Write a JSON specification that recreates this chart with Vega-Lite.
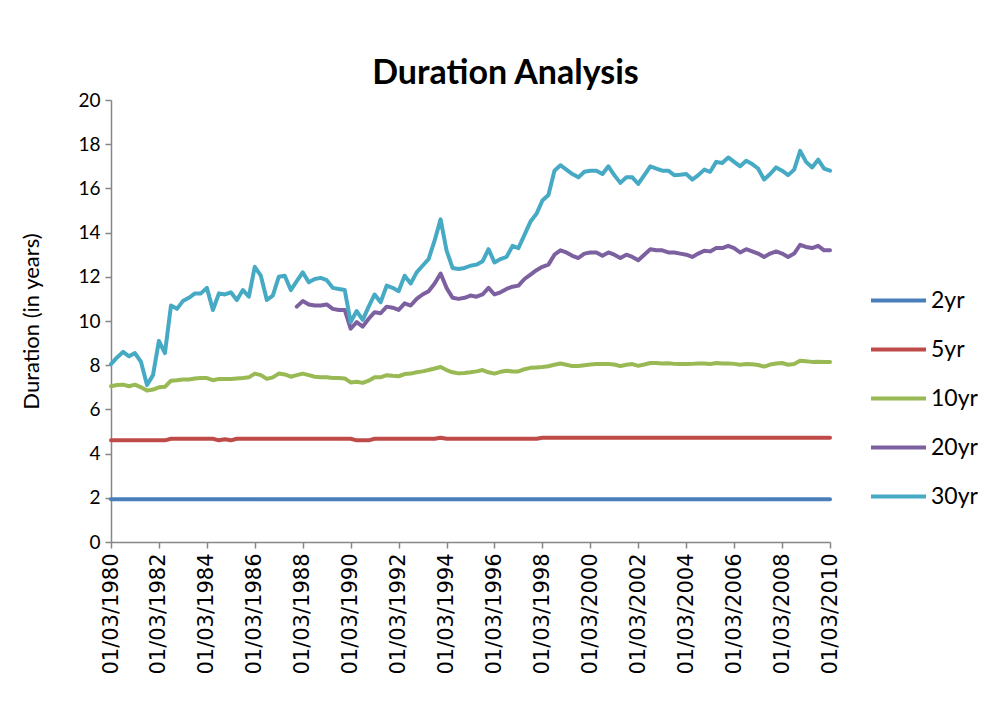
{
"$schema":"https://vega.github.io/schema/vega-lite/v6.json",
"width":719,"height":442,
"autosize":{"type":"none"},
"padding":{"left":111,"top":100,"right":160,"bottom":163},
"background":"white",
"title":{"text":"Duration Analysis","font":"Lato","fontSize":34,"fontWeight":"bold","color":"#000000","anchor":"middle","dx":35,"offset":0},
"data":{"values":[
{"d":"1980-03-01","2yr":1.93,"5yr":4.6,"10yr":7.05,"20yr":null,"30yr":8.05},
{"d":"1980-06-01","2yr":1.93,"5yr":4.6,"10yr":7.1,"20yr":null,"30yr":8.35},
{"d":"1980-09-01","2yr":1.93,"5yr":4.6,"10yr":7.12,"20yr":null,"30yr":8.6},
{"d":"1980-12-01","2yr":1.93,"5yr":4.6,"10yr":7.05,"20yr":null,"30yr":8.4},
{"d":"1981-03-01","2yr":1.93,"5yr":4.6,"10yr":7.12,"20yr":null,"30yr":8.55},
{"d":"1981-06-01","2yr":1.93,"5yr":4.6,"10yr":7.0,"20yr":null,"30yr":8.15},
{"d":"1981-09-01","2yr":1.93,"5yr":4.6,"10yr":6.85,"20yr":null,"30yr":7.1},
{"d":"1981-12-01","2yr":1.93,"5yr":4.6,"10yr":6.9,"20yr":null,"30yr":7.55},
{"d":"1982-03-01","2yr":1.93,"5yr":4.6,"10yr":7.0,"20yr":null,"30yr":9.1},
{"d":"1982-06-01","2yr":1.93,"5yr":4.6,"10yr":7.02,"20yr":null,"30yr":8.55},
{"d":"1982-09-01","2yr":1.93,"5yr":4.67,"10yr":7.3,"20yr":null,"30yr":10.7},
{"d":"1982-12-01","2yr":1.93,"5yr":4.67,"10yr":7.32,"20yr":null,"30yr":10.55},
{"d":"1983-03-01","2yr":1.93,"5yr":4.67,"10yr":7.35,"20yr":null,"30yr":10.9},
{"d":"1983-06-01","2yr":1.93,"5yr":4.67,"10yr":7.35,"20yr":null,"30yr":11.05},
{"d":"1983-09-01","2yr":1.93,"5yr":4.67,"10yr":7.4,"20yr":null,"30yr":11.25},
{"d":"1983-12-01","2yr":1.93,"5yr":4.67,"10yr":7.42,"20yr":null,"30yr":11.25},
{"d":"1984-03-01","2yr":1.93,"5yr":4.67,"10yr":7.42,"20yr":null,"30yr":11.5},
{"d":"1984-06-01","2yr":1.93,"5yr":4.67,"10yr":7.32,"20yr":null,"30yr":10.5},
{"d":"1984-09-01","2yr":1.93,"5yr":4.6,"10yr":7.38,"20yr":null,"30yr":11.25},
{"d":"1984-12-01","2yr":1.93,"5yr":4.65,"10yr":7.38,"20yr":null,"30yr":11.2},
{"d":"1985-03-01","2yr":1.93,"5yr":4.6,"10yr":7.38,"20yr":null,"30yr":11.3},
{"d":"1985-06-01","2yr":1.93,"5yr":4.67,"10yr":7.4,"20yr":null,"30yr":10.95},
{"d":"1985-09-01","2yr":1.93,"5yr":4.67,"10yr":7.42,"20yr":null,"30yr":11.4},
{"d":"1985-12-01","2yr":1.93,"5yr":4.67,"10yr":7.45,"20yr":null,"30yr":11.1},
{"d":"1986-03-01","2yr":1.93,"5yr":4.67,"10yr":7.62,"20yr":null,"30yr":12.45},
{"d":"1986-06-01","2yr":1.93,"5yr":4.67,"10yr":7.55,"20yr":null,"30yr":12.05},
{"d":"1986-09-01","2yr":1.93,"5yr":4.67,"10yr":7.38,"20yr":null,"30yr":10.95},
{"d":"1986-12-01","2yr":1.93,"5yr":4.67,"10yr":7.45,"20yr":null,"30yr":11.15},
{"d":"1987-03-01","2yr":1.93,"5yr":4.67,"10yr":7.62,"20yr":null,"30yr":12.0},
{"d":"1987-06-01","2yr":1.93,"5yr":4.67,"10yr":7.58,"20yr":null,"30yr":12.05},
{"d":"1987-09-01","2yr":1.93,"5yr":4.67,"10yr":7.48,"20yr":null,"30yr":11.4},
{"d":"1987-12-01","2yr":1.93,"5yr":4.67,"10yr":7.55,"20yr":10.65,"30yr":11.8},
{"d":"1988-03-01","2yr":1.93,"5yr":4.67,"10yr":7.62,"20yr":10.9,"30yr":12.2},
{"d":"1988-06-01","2yr":1.93,"5yr":4.67,"10yr":7.55,"20yr":10.75,"30yr":11.75},
{"d":"1988-09-01","2yr":1.93,"5yr":4.67,"10yr":7.48,"20yr":10.7,"30yr":11.9},
{"d":"1988-12-01","2yr":1.93,"5yr":4.67,"10yr":7.45,"20yr":10.7,"30yr":11.95},
{"d":"1989-03-01","2yr":1.93,"5yr":4.67,"10yr":7.45,"20yr":10.75,"30yr":11.85},
{"d":"1989-06-01","2yr":1.93,"5yr":4.67,"10yr":7.42,"20yr":10.55,"30yr":11.5},
{"d":"1989-09-01","2yr":1.93,"5yr":4.67,"10yr":7.42,"20yr":10.5,"30yr":11.45},
{"d":"1989-12-01","2yr":1.93,"5yr":4.67,"10yr":7.4,"20yr":10.5,"30yr":11.4},
{"d":"1990-03-01","2yr":1.93,"5yr":4.67,"10yr":7.22,"20yr":9.65,"30yr":9.95},
{"d":"1990-06-01","2yr":1.93,"5yr":4.6,"10yr":7.25,"20yr":9.95,"30yr":10.45},
{"d":"1990-09-01","2yr":1.93,"5yr":4.6,"10yr":7.2,"20yr":9.75,"30yr":10.05},
{"d":"1990-12-01","2yr":1.93,"5yr":4.6,"10yr":7.3,"20yr":10.1,"30yr":10.65},
{"d":"1991-03-01","2yr":1.93,"5yr":4.67,"10yr":7.45,"20yr":10.4,"30yr":11.2},
{"d":"1991-06-01","2yr":1.93,"5yr":4.67,"10yr":7.45,"20yr":10.35,"30yr":10.85},
{"d":"1991-09-01","2yr":1.93,"5yr":4.67,"10yr":7.55,"20yr":10.65,"30yr":11.6},
{"d":"1991-12-01","2yr":1.93,"5yr":4.67,"10yr":7.52,"20yr":10.6,"30yr":11.5},
{"d":"1992-03-01","2yr":1.93,"5yr":4.67,"10yr":7.5,"20yr":10.5,"30yr":11.35},
{"d":"1992-06-01","2yr":1.93,"5yr":4.67,"10yr":7.6,"20yr":10.8,"30yr":12.05},
{"d":"1992-09-01","2yr":1.93,"5yr":4.67,"10yr":7.62,"20yr":10.7,"30yr":11.7},
{"d":"1992-12-01","2yr":1.93,"5yr":4.67,"10yr":7.68,"20yr":11.0,"30yr":12.2},
{"d":"1993-03-01","2yr":1.93,"5yr":4.67,"10yr":7.72,"20yr":11.2,"30yr":12.5},
{"d":"1993-06-01","2yr":1.93,"5yr":4.67,"10yr":7.78,"20yr":11.35,"30yr":12.8},
{"d":"1993-09-01","2yr":1.93,"5yr":4.67,"10yr":7.85,"20yr":11.7,"30yr":13.65},
{"d":"1993-12-01","2yr":1.93,"5yr":4.72,"10yr":7.92,"20yr":12.15,"30yr":14.6},
{"d":"1994-03-01","2yr":1.93,"5yr":4.67,"10yr":7.78,"20yr":11.5,"30yr":13.2},
{"d":"1994-06-01","2yr":1.93,"5yr":4.67,"10yr":7.68,"20yr":11.05,"30yr":12.4},
{"d":"1994-09-01","2yr":1.93,"5yr":4.67,"10yr":7.63,"20yr":11.0,"30yr":12.35},
{"d":"1994-12-01","2yr":1.93,"5yr":4.67,"10yr":7.65,"20yr":11.05,"30yr":12.4},
{"d":"1995-03-01","2yr":1.93,"5yr":4.67,"10yr":7.68,"20yr":11.15,"30yr":12.5},
{"d":"1995-06-01","2yr":1.93,"5yr":4.67,"10yr":7.72,"20yr":11.1,"30yr":12.55},
{"d":"1995-09-01","2yr":1.93,"5yr":4.67,"10yr":7.78,"20yr":11.2,"30yr":12.7},
{"d":"1995-12-01","2yr":1.93,"5yr":4.67,"10yr":7.68,"20yr":11.5,"30yr":13.25},
{"d":"1996-03-01","2yr":1.93,"5yr":4.67,"10yr":7.62,"20yr":11.2,"30yr":12.65},
{"d":"1996-06-01","2yr":1.93,"5yr":4.67,"10yr":7.7,"20yr":11.3,"30yr":12.8},
{"d":"1996-09-01","2yr":1.93,"5yr":4.67,"10yr":7.75,"20yr":11.45,"30yr":12.9},
{"d":"1996-12-01","2yr":1.93,"5yr":4.67,"10yr":7.72,"20yr":11.55,"30yr":13.4},
{"d":"1997-03-01","2yr":1.93,"5yr":4.67,"10yr":7.72,"20yr":11.6,"30yr":13.3},
{"d":"1997-06-01","2yr":1.93,"5yr":4.67,"10yr":7.82,"20yr":11.9,"30yr":13.9},
{"d":"1997-09-01","2yr":1.93,"5yr":4.67,"10yr":7.88,"20yr":12.1,"30yr":14.5},
{"d":"1997-12-01","2yr":1.93,"5yr":4.67,"10yr":7.9,"20yr":12.3,"30yr":14.85},
{"d":"1998-03-01","2yr":1.93,"5yr":4.72,"10yr":7.92,"20yr":12.45,"30yr":15.45},
{"d":"1998-06-01","2yr":1.93,"5yr":4.72,"10yr":7.95,"20yr":12.55,"30yr":15.7},
{"d":"1998-09-01","2yr":1.93,"5yr":4.72,"10yr":8.02,"20yr":13.0,"30yr":16.8},
{"d":"1998-12-01","2yr":1.93,"5yr":4.72,"10yr":8.08,"20yr":13.2,"30yr":17.05},
{"d":"1999-03-01","2yr":1.93,"5yr":4.72,"10yr":8.02,"20yr":13.1,"30yr":16.85},
{"d":"1999-06-01","2yr":1.93,"5yr":4.72,"10yr":7.96,"20yr":12.95,"30yr":16.65},
{"d":"1999-09-01","2yr":1.93,"5yr":4.72,"10yr":7.96,"20yr":12.85,"30yr":16.5},
{"d":"1999-12-01","2yr":1.93,"5yr":4.72,"10yr":8.0,"20yr":13.05,"30yr":16.75},
{"d":"2000-03-01","2yr":1.93,"5yr":4.72,"10yr":8.03,"20yr":13.1,"30yr":16.8},
{"d":"2000-06-01","2yr":1.93,"5yr":4.72,"10yr":8.05,"20yr":13.1,"30yr":16.8},
{"d":"2000-09-01","2yr":1.93,"5yr":4.72,"10yr":8.05,"20yr":12.95,"30yr":16.65},
{"d":"2000-12-01","2yr":1.93,"5yr":4.72,"10yr":8.05,"20yr":13.1,"30yr":17.0},
{"d":"2001-03-01","2yr":1.93,"5yr":4.72,"10yr":8.03,"20yr":13.0,"30yr":16.6},
{"d":"2001-06-01","2yr":1.93,"5yr":4.72,"10yr":7.96,"20yr":12.85,"30yr":16.25},
{"d":"2001-09-01","2yr":1.93,"5yr":4.72,"10yr":8.02,"20yr":13.0,"30yr":16.5},
{"d":"2001-12-01","2yr":1.93,"5yr":4.72,"10yr":8.05,"20yr":12.9,"30yr":16.5},
{"d":"2002-03-01","2yr":1.93,"5yr":4.72,"10yr":7.97,"20yr":12.75,"30yr":16.2},
{"d":"2002-06-01","2yr":1.93,"5yr":4.72,"10yr":8.03,"20yr":13.0,"30yr":16.6},
{"d":"2002-09-01","2yr":1.93,"5yr":4.72,"10yr":8.1,"20yr":13.25,"30yr":17.0},
{"d":"2002-12-01","2yr":1.93,"5yr":4.72,"10yr":8.1,"20yr":13.2,"30yr":16.9},
{"d":"2003-03-01","2yr":1.93,"5yr":4.72,"10yr":8.08,"20yr":13.2,"30yr":16.8},
{"d":"2003-06-01","2yr":1.93,"5yr":4.72,"10yr":8.09,"20yr":13.1,"30yr":16.8},
{"d":"2003-09-01","2yr":1.93,"5yr":4.72,"10yr":8.06,"20yr":13.1,"30yr":16.6},
{"d":"2003-12-01","2yr":1.93,"5yr":4.72,"10yr":8.05,"20yr":13.05,"30yr":16.62},
{"d":"2004-03-01","2yr":1.93,"5yr":4.72,"10yr":8.05,"20yr":13.0,"30yr":16.65},
{"d":"2004-06-01","2yr":1.93,"5yr":4.72,"10yr":8.06,"20yr":12.9,"30yr":16.4},
{"d":"2004-09-01","2yr":1.93,"5yr":4.72,"10yr":8.08,"20yr":13.05,"30yr":16.6},
{"d":"2004-12-01","2yr":1.93,"5yr":4.72,"10yr":8.08,"20yr":13.18,"30yr":16.85},
{"d":"2005-03-01","2yr":1.93,"5yr":4.72,"10yr":8.05,"20yr":13.15,"30yr":16.75},
{"d":"2005-06-01","2yr":1.93,"5yr":4.72,"10yr":8.1,"20yr":13.3,"30yr":17.2},
{"d":"2005-09-01","2yr":1.93,"5yr":4.72,"10yr":8.08,"20yr":13.3,"30yr":17.15},
{"d":"2005-12-01","2yr":1.93,"5yr":4.72,"10yr":8.08,"20yr":13.4,"30yr":17.4},
{"d":"2006-03-01","2yr":1.93,"5yr":4.72,"10yr":8.06,"20yr":13.3,"30yr":17.2},
{"d":"2006-06-01","2yr":1.93,"5yr":4.72,"10yr":8.02,"20yr":13.1,"30yr":17.0},
{"d":"2006-09-01","2yr":1.93,"5yr":4.72,"10yr":8.05,"20yr":13.25,"30yr":17.25},
{"d":"2006-12-01","2yr":1.93,"5yr":4.72,"10yr":8.04,"20yr":13.15,"30yr":17.1},
{"d":"2007-03-01","2yr":1.93,"5yr":4.72,"10yr":8.01,"20yr":13.05,"30yr":16.9},
{"d":"2007-06-01","2yr":1.93,"5yr":4.72,"10yr":7.94,"20yr":12.9,"30yr":16.4},
{"d":"2007-09-01","2yr":1.93,"5yr":4.72,"10yr":8.03,"20yr":13.05,"30yr":16.65},
{"d":"2007-12-01","2yr":1.93,"5yr":4.72,"10yr":8.08,"20yr":13.15,"30yr":16.95},
{"d":"2008-03-01","2yr":1.93,"5yr":4.72,"10yr":8.1,"20yr":13.05,"30yr":16.8},
{"d":"2008-06-01","2yr":1.93,"5yr":4.72,"10yr":8.02,"20yr":12.9,"30yr":16.6},
{"d":"2008-09-01","2yr":1.93,"5yr":4.72,"10yr":8.05,"20yr":13.05,"30yr":16.85},
{"d":"2008-12-01","2yr":1.93,"5yr":4.72,"10yr":8.2,"20yr":13.45,"30yr":17.7},
{"d":"2009-03-01","2yr":1.93,"5yr":4.72,"10yr":8.18,"20yr":13.35,"30yr":17.2},
{"d":"2009-06-01","2yr":1.93,"5yr":4.72,"10yr":8.15,"20yr":13.3,"30yr":16.95},
{"d":"2009-09-01","2yr":1.93,"5yr":4.72,"10yr":8.16,"20yr":13.4,"30yr":17.3},
{"d":"2009-12-01","2yr":1.93,"5yr":4.72,"10yr":8.15,"20yr":13.2,"30yr":16.9},
{"d":"2010-03-01","2yr":1.93,"5yr":4.72,"10yr":8.15,"20yr":13.2,"30yr":16.8}
]},
"transform":[{"fold":["2yr","5yr","10yr","20yr","30yr"],"as":["series","value"]}],
"mark":{"type":"line","strokeWidth":4,"strokeJoin":"round","strokeCap":"round"},
"encoding":{
"x":{"field":"d","type":"temporal",
"scale":{"type":"utc","domain":[{"year":1980,"month":3,"date":1,"utc":true},{"year":2010,"month":3,"date":1,"utc":true}]},
"axis":{"title":null,"grid":false,"labelExpr":"utcFormat(datum.value, '%d/%m/%Y')",
"values":[{"year":1980,"month":3,"date":1,"utc":true},{"year":1982,"month":3,"date":1,"utc":true},{"year":1984,"month":3,"date":1,"utc":true},{"year":1986,"month":3,"date":1,"utc":true},{"year":1988,"month":3,"date":1,"utc":true},{"year":1990,"month":3,"date":1,"utc":true},{"year":1992,"month":3,"date":1,"utc":true},{"year":1994,"month":3,"date":1,"utc":true},{"year":1996,"month":3,"date":1,"utc":true},{"year":1998,"month":3,"date":1,"utc":true},{"year":2000,"month":3,"date":1,"utc":true},{"year":2002,"month":3,"date":1,"utc":true},{"year":2004,"month":3,"date":1,"utc":true},{"year":2006,"month":3,"date":1,"utc":true},{"year":2008,"month":3,"date":1,"utc":true},{"year":2010,"month":3,"date":1,"utc":true}],
"labelAngle":-90,"labelFont":"DejaVu Sans","labelFontSize":21,"labelColor":"#000000","labelPadding":5,"labelOverlap":false,"labelFlush":false,"labelBound":false,
"tickSize":6,"tickColor":"#868686","domainColor":"#868686","domainWidth":1.5,"tickWidth":1.5}},
"y":{"field":"value","type":"quantitative","scale":{"domain":[0,20],"nice":false,"zero":true},
"axis":{"title":"Duration (in years)","values":[0,2,4,6,8,10,12,14,16,18,20],"grid":false,
"labelFont":"Lato","labelFontSize":19,"labelColor":"#000000","labelPadding":5,"labelFlush":false,
"tickSize":6,"tickColor":"#868686","domainColor":"#868686","domainWidth":1.5,"tickWidth":1.5,
"titleFont":"Lato","titleFontSize":22,"titleFontWeight":"normal","titleColor":"#000000","titlePadding":34}},
"color":{"field":"series","type":"nominal",
"scale":{"domain":["2yr","5yr","10yr","20yr","30yr"],"range":["#4A7EBB","#BE4B48","#98B954","#7D60A0","#46AAC5"]},
"legend":{"title":null,"orient":"none","legendX":758,"legendY":171,"symbolType":"stroke","symbolSize":3025,"symbolStrokeWidth":4,
"labelFont":"Lato","labelFontSize":23,"labelColor":"#000000","labelOffset":3,"rowPadding":7,"padding":0}}
},
"config":{"view":{"stroke":null}}
}
